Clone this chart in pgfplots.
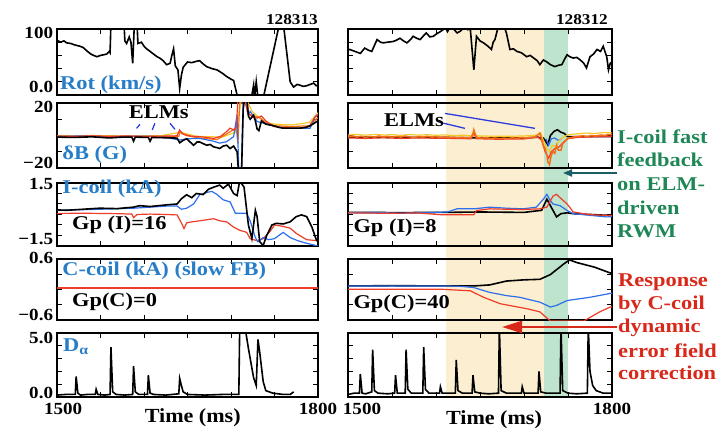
\documentclass[border=0pt]{standalone}
\usepackage{fontspec}
\setmainfont{Liberation Serif}
\usepackage{pgfplots}
\pgfplotsset{compat=1.18}
\usetikzlibrary{backgrounds,arrows.meta}

\definecolor{lblue}{RGB}{40,125,200}
\definecolor{tred}{RGB}{238,60,40}
\definecolor{torange}{RGB}{245,110,20}
\definecolor{tyellow}{RGB}{245,200,40}
\definecolor{tblue}{RGB}{45,110,235}
\definecolor{gtxt}{RGB}{30,135,85}
\definecolor{rtxt}{RGB}{215,40,25}
\definecolor{band1}{RGB}{252,238,208}
\definecolor{band2}{RGB}{190,228,205}
\definecolor{arrteal}{RGB}{25,95,100}
\definecolor{elmblue}{RGB}{45,60,220}

\newcommand\tfont{\fontsize{17}{17}\selectfont\bfseries}
\newcommand\lfont{\fontsize{19.5}{23}\selectfont\bfseries}
% move a tick label up or down without changing its box
\newcommand\up[2]{\raisebox{#1}[\height][\depth]{#2}}

\tikzset{
  lab/.style={font=\lfont, xscale=1.15, inner sep=0pt},
  blk/.style={black, line width=1.6pt},
}
\pgfplotsset{
  panel/.style={
    scale only axis, xmin=1500, xmax=1800,
    clip mode=individual,
    axis line style={line width=1.8pt},
    xtick={1500,1550,...,1800}, xticklabels={},
    yticklabels={},
    major tick length=5pt,
    every tick/.style={black, line width=1pt},
    tick label style={font=\tfont, xscale=1.12},
    xticklabel style={yshift=-3pt},
    every axis plot/.append style={line width=1.2pt},
  },
}

\begin{document}
\begin{tikzpicture}
\useasboundingbox (0,0) rectangle (725pt,431pt);

% ---------------- left column (128313) ----------------
\begin{axis}[panel, at={(57pt,336pt)}, anchor=south west, width=261pt, height=66pt,
  ymin=0, ymax=100, ytick={0,20,...,100}, yticklabels={\up{8pt}{0.0},,,,,\up{-4pt}{100}}]
\addplot[blk] coordinates {(1500,83) (1504,80) (1508,82) (1511,79) (1516,78) (1520,76) (1526,74) (1530,72) (1535,66) (1539,62) (1542,60) (1546,58) (1550,60) (1554,61) (1557,62) (1560,66) (1561,64) (1562,110) (1577,110) (1578,82) (1580,78) (1583,88) (1585,80) (1587,48) (1589,110) (1592,110) (1593,78) (1597,80) (1600,74) (1603,70) (1607,66) (1611,62) (1615,58) (1618,56) (1622,52) (1626,46) (1630,48) (1632,60) (1634,70) (1636,44) (1639,38) (1641,10) (1643,30) (1645,42) (1650,50) (1655,49) (1660,51) (1664,52) (1668,47) (1672,43) (1678,40) (1684,38) (1690,33) (1695,28) (1700,24) (1703,22) (1707,0) (1710,-5) (1716,-5) (1720,-2) (1724,0) (1726,15) (1727,-5) (1729,20) (1731,-5) (1737,-5) (1756,110) (1760,110) (1768,20) (1772,12) (1776,16) (1779,15) (1783,13) (1787,14) (1791,16) (1795,18) (1798,14) (1800,15)};
\node[lab, lblue, anchor=west] at (rel axis cs:0.011,0.15) {Rot (km/s)};
\node[font=\fontsize{15}{15}\selectfont\bfseries, xscale=1.15, inner sep=0pt, anchor=south east] at (rel axis cs:1,1) [yshift=4pt] {128313};
\end{axis}

\begin{axis}[panel, at={(57pt,263pt)}, anchor=south west, width=261pt, height=65pt,
  ymin=-20, ymax=20, ytick={-20,-10,...,20}, yticklabels={\up{5pt}{−20},,,,\up{-4pt}{20}}]
\addplot[tyellow] coordinates {(1500,-0.2) (1540,0) (1580,-0.3) (1620,-0.1) (1642,2) (1660,-0.5) (1690,-1) (1705,2) (1712,22) (1718,22) (1724,15) (1730,12) (1740,8) (1750,7) (1770,6.5) (1790,8) (1800,14)};
\addplot[torange] coordinates {(1500,-0.6) (1530,-0.4) (1560,-0.8) (1590,-0.5) (1620,-0.7) (1640,-0.5) (1642,2.5) (1648,0) (1660,-1.2) (1672,-2) (1684,-2.5) (1695,1) (1701,3) (1706,4) (1708,-5) (1710,20) (1716,22) (1720,13) (1726,12) (1733,11) (1740,8) (1750,6) (1770,5.5) (1790,6) (1800,11)};
\addplot[tblue] coordinates {(1500,-0.5) (1530,-0.3) (1560,-0.7) (1590,-0.4) (1620,-0.6) (1641,-2.8) (1650,-2) (1664,-1.8) (1680,-3.5) (1687,-4.7) (1695,-3.8) (1703,-0.7) (1707,12.7) (1709,-22) (1712,-22) (1714,22) (1718,22) (1720,12.7) (1722,14.8) (1730,8.6) (1745,6.5) (1760,4.5) (1780,4.5) (1791,4.5) (1797,11.8) (1800,13)};
\addplot[tred] coordinates {(1500,-0.3) (1520,-0.6) (1540,-0.2) (1560,-0.5) (1580,-0.3) (1600,-0.6) (1620,-0.4) (1638,-0.2) (1641,3.4) (1644,1) (1649,0.3) (1655,-0.5) (1664,-0.7) (1672,-1.2) (1680,-1.8) (1688,-0.5) (1695,2.4) (1699,4.5) (1703,3.4) (1706,5) (1708,22) (1716,22) (1719,14) (1722,12.7) (1726,11) (1730,10.7) (1735,12) (1740,9) (1749,5.5) (1760,5) (1770,4.5) (1779,4.5) (1790,5.5) (1796,11) (1800,12.7)};
\addplot[blk] coordinates {(1500,-1) (1520,-1.2) (1540,-0.8) (1560,-1.5) (1575,-1) (1586,-1) (1588,-3.5) (1590,-1) (1605,-1.2) (1607,-3.5) (1609,-1.2) (1625,-1.4) (1638,-1.6) (1641,-4.5) (1645,-3) (1649,-2) (1653,-4) (1657,-6) (1661,-4) (1664,-4) (1668,-5) (1672,-6) (1676,-5.5) (1680,-7) (1684,-7.5) (1687,-8) (1691,-6.5) (1695,-6) (1699,-8) (1703,-6.5) (1707,-10) (1709,-25) (1712,-25) (1714,16) (1716,25) (1718,25) (1720,12) (1722,10) (1726,12.5) (1728,9) (1730,4) (1732,3) (1735,9) (1740,7) (1749,6) (1755,5) (1760,4.5) (1770,4.5) (1779,4.5) (1786,5) (1791,6) (1797,8) (1800,9)};
\node[lab, lblue, anchor=west] at (rel axis cs:0.02,0.2) {δB (G)};
\node[lab] at (rel axis cs:0.39,0.86) {ELMs};
\draw[elmblue, line width=1.3pt] (rel axis cs:0.318,0.672) -- (rel axis cs:0.305,0.61);
\draw[elmblue, line width=1.3pt] (rel axis cs:0.375,0.688) -- (rel axis cs:0.365,0.585);
\draw[elmblue, line width=1.3pt] (rel axis cs:0.433,0.688) -- (rel axis cs:0.452,0.595);
\end{axis}

\begin{axis}[panel, at={(57pt,185pt)}, anchor=south west, width=261pt, height=63pt,
  ymin=-1.5, ymax=1.5, ytick={-1.5,-1,-0.5,0,0.5,1,1.5}, yticklabels={\up{7pt}{−1.5},,,,,,\up{-1pt}{1.5}}]
\addplot[tred] coordinates {(1500,0.05) (1530,0.06) (1569,0.04) (1586,0.02) (1588,-0.15) (1592,0) (1607,0.02) (1626,0) (1638,-0.02) (1643,-0.4) (1646,-0.67) (1649,-0.4) (1655,-0.35) (1664,-0.3) (1672,-0.25) (1680,-0.2) (1687,-0.3) (1695,-0.35) (1703,-0.6) (1710,-0.75) (1718,-0.85) (1722,-1.15) (1730,-1.25) (1737,-1.15) (1745,-0.8) (1750,-0.5) (1758,-0.55) (1768,-0.65) (1775,-0.9) (1787,-1.2) (1800,-1.25)};
\addplot[tblue] coordinates {(1500,0.2) (1549,0.25) (1588,0.3) (1626,0.4) (1638,0.4) (1643,0.25) (1649,0.3) (1657,0.5) (1664,0.94) (1672,1.05) (1678,1.1) (1684,0.95) (1691,0.7) (1699,0.6) (1705,0.06) (1718,0.06) (1722,-0.3) (1728,-1.1) (1731,-1.3) (1737,-1.1) (1743,-1.2) (1750,-1.15) (1760,-0.85) (1768,-1.1) (1777,-1.25) (1785,-1.35) (1800,-1.5)};
\addplot[blk] coordinates {(1500,0.22) (1511,0.2) (1530,0.25) (1549,0.3) (1569,0.28) (1588,0.35) (1595,0.42) (1607,0.38) (1626,0.46) (1638,0.5) (1643,0.75) (1649,0.94) (1655,0.8) (1660,1.0) (1668,0.95) (1674,1.2) (1680,1.3) (1687,1.4) (1691,1.25) (1697,1.45) (1703,1.0) (1707,0.9) (1710,1.6) (1715,1.3) (1720,-0.5) (1724,-1.15) (1728,0.2) (1730,-0.1) (1733,-1.3) (1737,-1.47) (1741,-1.0) (1747,-0.5) (1752,-0.42) (1760,-0.45) (1768,-0.35) (1775,-0.1) (1781,-0.02) (1787,-0.1) (1793,-0.6) (1798,-1.2) (1800,-1.3)};
\node[lab, lblue, anchor=west] at (rel axis cs:0.02,0.9) {I-coil (kA)};
\node[lab, anchor=west] at (rel axis cs:0.057,0.33) {Gp (I)=16};
\end{axis}

\begin{axis}[panel, at={(57pt,111pt)}, anchor=south west, width=261pt, height=61pt,
  ymin=-0.6, ymax=0.6, ytick={-0.6,-0.3,0,0.3,0.6}, yticklabels={\up{5pt}{−0.6},,,,\up{1pt}{0.6}}]
\addplot[tred] coordinates {(1500,0.03) (1800,0.03)};
\node[lab, lblue, anchor=west] at (rel axis cs:0.02,0.8) {C-coil (kA) (slow FB)};
\node[lab, anchor=west] at (rel axis cs:0.057,0.3) {Gp(C)=0};
\end{axis}

\begin{axis}[panel, at={(57pt,34pt)}, anchor=south west, width=261pt, height=64pt,
  ymin=0, ymax=5, ytick={0,1,...,5}, yticklabels={\up{4pt}{0.0},,,,,\up{-5pt}{5.0}},
  xticklabels={\hspace{11pt}1500,,,,,,1800\hspace{11pt}}]
\addplot[blk] coordinates {(1500,0.15) (1510,0.2) (1521,0.2) (1522,1.6) (1524,0.3) (1527,0.15) (1535,0.2) (1544,0.2) (1545,0.6) (1547,0.2) (1555,0.15) (1561,0.2) (1562,3.9) (1564,0.4) (1568,0.2) (1578,0.15) (1587,0.2) (1588,2.4) (1590,0.4) (1594,0.2) (1604,0.2) (1605,1.7) (1607,0.3) (1611,0.2) (1625,0.15) (1640,0.25) (1641,1.45) (1643,0.9) (1645,0.4) (1650,0.2) (1670,0.15) (1690,0.2) (1709,0.2) (1710,5.5) (1716,5.5) (1720,3.8) (1726,1.5) (1729,0.9) (1731,4.5) (1733,3.5) (1737,1.2) (1740,0.5) (1748,0.3) (1760,0.2) (1768,0.2) (1772,0.4)};
\node[lab, lblue, anchor=west] at (rel axis cs:0.023,0.78) {D\textsubscript{α}};
\node[lab, font=\fontsize{20}{20}\selectfont\bfseries, xscale=0.96] at (rel axis cs:0.52,0) [yshift=-21pt] {Time (ms)};
\end{axis}

% ---------------- right column (128312) ----------------
\begin{axis}[panel, at={(348pt,336pt)}, anchor=south west, width=264pt, height=66pt,
  ymin=0, ymax=100, ytick={0,20,...,100}]
\coordinate (bandA) at (axis cs:1611,100);
\addplot[blk] coordinates {(1500,68) (1502,69) (1506,67) (1510,65) (1514,63) (1519,71) (1523,68) (1527,66) (1533,84) (1537,80) (1540,79) (1545,80) (1551,81) (1555,83) (1559,86) (1563,82) (1567,79) (1571,84) (1574,89) (1578,86) (1582,84) (1586,90) (1589,94) (1593,88) (1597,89) (1601,93) (1605,96) (1608,99) (1610,105) (1613,96) (1617,105) (1620,100) (1624,94) (1628,97) (1632,103) (1636,99) (1639,100) (1643,38) (1646,89) (1650,82) (1654,79) (1659,74) (1663,69) (1665,80) (1667,84) (1671,105) (1674,102) (1677,105) (1680,94) (1684,69) (1688,70) (1692,66) (1697,64) (1703,58) (1707,60) (1711,56) (1715,52) (1718,46) (1722,53) (1726,50) (1730,46) (1735,43) (1739,45) (1743,46) (1746,54) (1749,61) (1752,58) (1756,56) (1760,57) (1764,53) (1768,48) (1771,41) (1775,58) (1779,62) (1783,69) (1787,66) (1790,74) (1794,58) (1796,38) (1798,48) (1800,50)};
\node[font=\fontsize{15}{15}\selectfont\bfseries, xscale=1.15, inner sep=0pt, anchor=south east] at (rel axis cs:0.985,1) [yshift=4pt] {128312};
\end{axis}

\begin{axis}[panel, at={(348pt,263pt)}, anchor=south west, width=264pt, height=65pt,
  ymin=-20, ymax=20, ytick={-20,-10,...,20}]
\addplot[blk] coordinates {(1500,-1) (1600,-1.2) (1700,-1.6) (1716,-1) (1720,-2) (1722,-1.6) (1724,-3) (1727,-5.7) (1730,0) (1734,2.5) (1738,3.5) (1742,2) (1746,1.2) (1749,-0.6) (1755,-0.8) (1800,-0.6)};
\addplot[tblue] coordinates {(1725,-2) (1728,-6) (1731,-2) (1735,-1.6) (1739,-3) (1743,-2)};
\addplot[tyellow] coordinates {(1500,0.3) (1510,0.6) (1520,0.2) (1530,0.7) (1540,0.3) (1550,0.5) (1560,0.1) (1570,0.6) (1580,0.2) (1590,0.5) (1600,0.1) (1610,0.4) (1620,-0.1) (1630,0.2) (1640,-0.2) (1643,2) (1646,-0.2) (1660,-0.4) (1680,-0.5) (1700,-0.3) (1715,0.2) (1719,1.5) (1722,-3) (1726,-8) (1729,-10) (1732,-6) (1736,-7) (1740,-3) (1745,-1) (1750,0.5) (1760,1) (1770,1.5) (1780,1.2) (1790,1.8) (1800,1.6)};
\addplot[tred] coordinates {(1500,-1.5) (1520,-1.8) (1540,-1.4) (1560,-1.8) (1580,-1.5) (1600,-1.7) (1620,-1.8) (1640,-2) (1643,1.5) (1646,-2) (1670,-2.3) (1700,-2.1) (1716,-1) (1720,-3) (1724,-10) (1728,-14) (1731,-10) (1735,-8) (1740,-7) (1745,-4) (1750,-2) (1760,-1.2) (1780,-0.8) (1800,-0.4)};
\addplot[torange, line width=1.5pt] coordinates {(1500,-0.8) (1505,-0.2) (1510,-1) (1515,-0.5) (1520,-1.2) (1525,-0.6) (1530,-1) (1535,-0.3) (1540,-0.9) (1545,-0.5) (1550,-1.1) (1555,-0.6) (1560,-1) (1565,-0.4) (1570,-0.8) (1575,-1.3) (1580,-0.7) (1585,-1) (1590,-0.5) (1595,-1) (1600,-0.8) (1605,-1.2) (1610,-0.9) (1615,-1.3) (1620,-1) (1625,-1.4) (1630,-1.1) (1635,-1.5) (1640,-1.2) (1642,1) (1643,3.5) (1645,0) (1647,-1.4) (1652,-1.6) (1657,-1.3) (1662,-1.8) (1667,-1.5) (1672,-1.9) (1677,-1.6) (1682,-1.8) (1687,-1.4) (1692,-1.7) (1697,-1.3) (1702,-1.5) (1707,-1.2) (1712,-1) (1716,0.5) (1718,1.5) (1720,-2) (1722,-6) (1724,-8) (1726,-12) (1727,-16) (1729,-18) (1731,-12) (1733,-10) (1735,-11) (1737,-6) (1739,-9) (1742,-9) (1744,-5) (1746,-4) (1749,-2) (1752,-1.5) (1757,-0.8) (1762,-0.5) (1767,-0.2) (1772,-0.6) (1777,0) (1782,-0.3) (1787,0.3) (1792,0) (1796,0.6) (1800,0.5)};
\node[lab] at (rel axis cs:0.25,0.74) {ELMs};
\draw[elmblue, line width=1.3pt] (rel axis cs:0.367,0.84) -- (rel axis cs:0.708,0.61);
\draw[elmblue, line width=1.3pt] (rel axis cs:0.361,0.69) -- (rel axis cs:0.443,0.61);
\end{axis}

\begin{axis}[panel, at={(348pt,185pt)}, anchor=south west, width=264pt, height=63pt,
  ymin=-1.5, ymax=1.5, ytick={-1.5,-1,-0.5,0,0.5,1,1.5}]
\addplot[blk] coordinates {(1500,0.1) (1560,0.09) (1612,0.1) (1650,0.12) (1700,0.1) (1720,0.2) (1726,0.73) (1733,0.19) (1737,-0.115) (1742,0.04) (1749,0.08) (1756,0.04) (1800,-0.05)};
\addplot[tblue] coordinates {(1500,0.08) (1530,0.1) (1560,0.06) (1590,0.09) (1613,0.12) (1624,0.27) (1643,0.27) (1661,0.35) (1680,0.3) (1699,0.27) (1714,0.35) (1722,0.73) (1726,0.96) (1730,0.65) (1733,0.5) (1741,0.42) (1749,0.19) (1756,0.04) (1775,-0.04) (1794,-0.115) (1800,-0.1)};
\addplot[tred] coordinates {(1500,0.08) (1540,0.06) (1580,0.07) (1605,-0.01) (1643,-0.01) (1646,0.19) (1661,0.27) (1680,0.25) (1699,0.24) (1718,0.27) (1726,0.35) (1733,0.88) (1737,0.96) (1741,0.8) (1749,0.5) (1756,0.12) (1775,-0.01) (1794,-0.04) (1800,-0.05)};
\node[lab, anchor=west] at (rel axis cs:0.02,0.29) {Gp (I)=8};
\end{axis}

\begin{axis}[panel, at={(348pt,111pt)}, anchor=south west, width=264pt, height=61pt,
  ymin=-0.6, ymax=0.6, ytick={-0.6,-0.3,0,0.3,0.6}]
\addplot[blk] coordinates {(1500,0.07) (1550,0.075) (1612,0.07) (1643,0.07) (1661,0.09) (1680,0.166) (1700,0.19) (1718,0.2) (1730,0.294) (1745,0.5) (1749,0.55) (1752,0.58) (1760,0.53) (1780,0.44) (1798,0.325) (1800,0.32)};
\addplot[tblue] coordinates {(1500,0.07) (1612,0.07) (1630,0.06) (1643,0.038) (1661,-0.057) (1680,-0.12) (1695,-0.153) (1718,-0.249) (1730,-0.345) (1737,-0.313) (1749,-0.217) (1775,-0.153) (1798,-0.077) (1800,-0.075)};
\addplot[tred] coordinates {(1500,0.006) (1605,0.006) (1639,-0.026) (1654,-0.153) (1673,-0.28) (1703,-0.377) (1718,-0.44) (1730,-0.62) (1768,-0.62) (1786,-0.44) (1798,-0.345) (1800,-0.34)};
\node[lab, anchor=west] at (rel axis cs:0.02,0.27) {Gp(C)=40};
\end{axis}

\begin{axis}[panel, at={(348pt,34pt)}, anchor=south west, width=264pt, height=64pt,
  ymin=0, ymax=5, ytick={0,1,...,5}, xticklabels={\hspace{25pt}1500,,,,,,1800\hspace{9pt}}]
\coordinate (bandB) at (axis cs:1723,0);
\coordinate (bandC) at (axis cs:1750,0);
\addplot[blk] coordinates {(1500,0.2) (1507,0.3) (1513,0.3) (1514,1.8) (1516,0.3) (1520,0.25) (1527,0.4) (1528,3.7) (1530,0.5) (1534,0.3) (1545,0.25) (1553,0.3) (1554,1.7) (1556,0.3) (1565,0.3) (1566,3.7) (1568,0.6) (1572,0.3) (1585,0.3) (1586,3.9) (1588,0.6) (1592,0.3) (1604,0.3) (1605,0.8) (1607,0.3) (1622,0.3) (1623,2.9) (1625,0.5) (1630,0.3) (1641,0.3) (1642,1.7) (1644,0.4) (1650,0.3) (1660,0.25) (1671,0.3) (1672,5.5) (1674,0.5) (1680,0.3) (1697,0.3) (1698,0.8) (1700,0.3) (1716,0.3) (1717,2.0) (1719,0.4) (1725,0.3) (1741,0.3) (1742,5.5) (1744,0.5) (1750,0.3) (1760,0.25) (1772,0.3) (1773,5.5) (1775,2) (1778,0.9) (1782,0.5) (1790,0.3) (1800,0.3)};
\node[lab, font=\fontsize{20}{20}\selectfont\bfseries, xscale=0.96] at (rel axis cs:0.553,0) [yshift=-23pt] {Time (ms)};
\end{axis}

% shaded time windows behind the right column
\begin{scope}[on background layer]
\fill[band1] (bandA) rectangle (bandB);
\fill[band2] (bandA -| bandB) rectangle (bandC);
\end{scope}

% annotations on the right
\node[lab, gtxt, anchor=west] at (617pt,294pt) {I-coil fast};
\node[lab, gtxt, anchor=west] at (617pt,271pt) {feedback};
\node[lab, gtxt, anchor=west] at (617pt,247pt) {on ELM-};
\node[lab, gtxt, anchor=west] at (617pt,223pt) {driven};
\node[lab, gtxt, anchor=west] at (617pt,200pt) {RWM};
\draw[arrteal, line width=2pt, -{Triangle[length=9pt,width=7pt]}] (617pt,258pt) -- (563pt,258pt);

\node[lab, rtxt, anchor=west] at (618pt,149pt) {Response};
\node[lab, rtxt, anchor=west] at (618pt,126pt) {by C-coil};
\node[lab, rtxt, anchor=west] at (618pt,103pt) {dynamic};
\node[lab, rtxt, anchor=west] at (618pt,80pt) {error field};
\node[lab, rtxt, anchor=west] at (618pt,58pt) {correction};
\draw[rtxt, line width=2pt, -{Triangle[length=20pt,width=12pt]}] (617pt,104pt) -- (502pt,104pt);
\end{tikzpicture}
\end{document}
